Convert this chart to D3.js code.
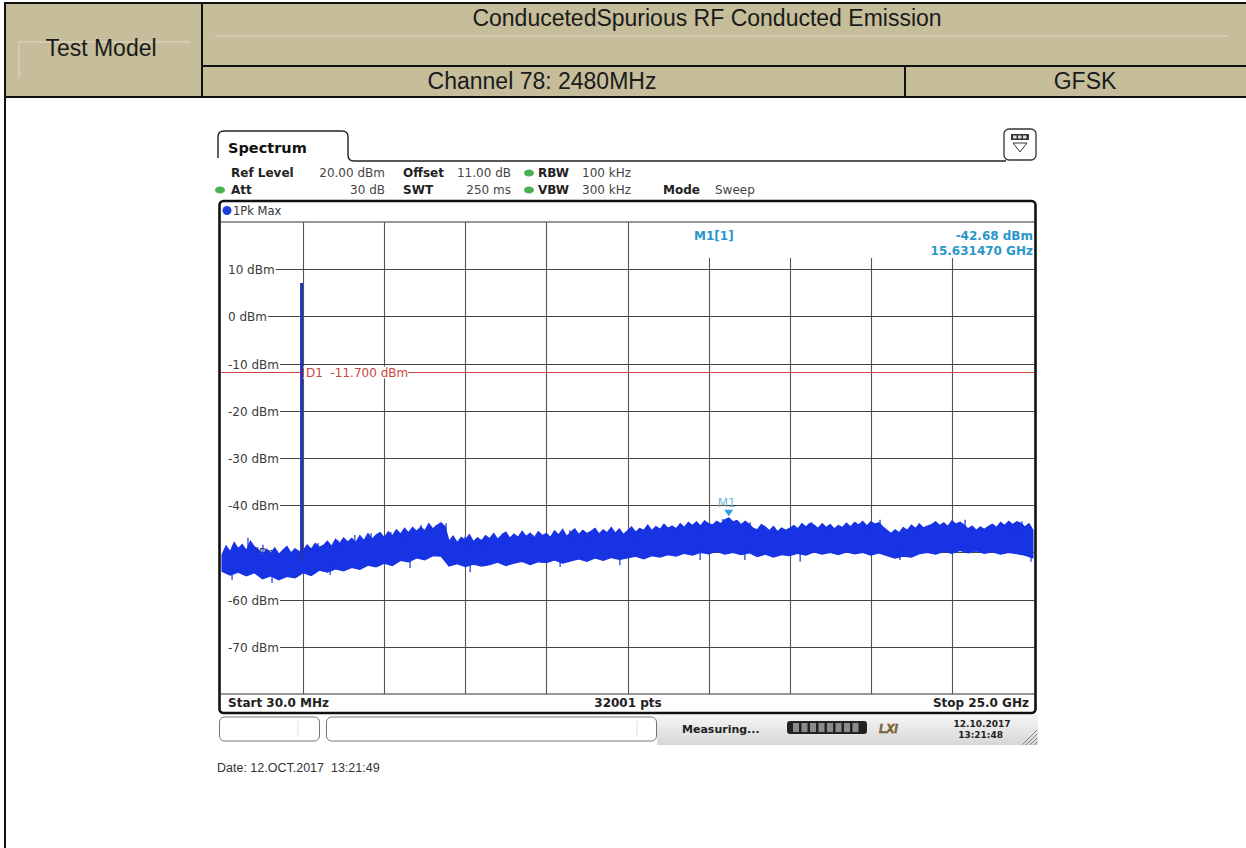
<!DOCTYPE html>
<html><head><meta charset="utf-8">
<script src="https://cdn.jsdelivr.net/npm/d3@7"></script>
<style>body{margin:0;background:#fff} svg{display:block} text{white-space:pre}</style>
</head><body>
<svg id="c" width="1246" height="848"></svg>
<script>
// ---------------- data ----------------
const titleText = "ConducetedSpurious RF Conducted Emission";
const channelText = "Channel 78: 2480MHz";
const modText = "GFSK";
const modelText = "Test Model";
const yTicks = [10, 0, -10, -20, -30, -40, -50, -60, -70];
const yTickLabels = ["10 dBm", "0 dBm", "-10 dBm", "-20 dBm", "-30 dBm", "-40 dBm", "-50 dBm", "-60 dBm", "-70 dBm"];
const refLevel = 20, bottomLevel = -80;
const startGHz = 0.03, stopGHz = 25.0;
const xDivisions = 10;
const carrierGHz = 2.48, carrierPeakDbm = 7.1;
const d1Level = -11.7;
const markerFreq = 15.63147, markerLevel = -42.68;
// upper envelope of the Pk Max trace (dBm), 201 points evenly spread from start to stop
const upperEnv = [
 -50.5,-48.6,-49.8,-47.9,-49.2,-48.3,-49.6,-47.6,-48.8,-49.4,
 -50.6,-49.3,-50.2,-49.0,-50.4,-49.5,-48.7,-50.1,-49.2,-49.8,
 -49.6,-48.4,-49.3,-48.1,-48.9,-48.5,-47.6,-48.7,-47.2,-48.1,
 -46.9,-47.8,-47.0,-47.9,-46.4,-47.5,-46.0,-47.2,-46.3,-45.8,
 -46.9,-45.6,-46.5,-45.2,-46.1,-44.9,-45.8,-44.7,-45.5,-44.6,
 -45.4,-43.9,-45.0,-44.3,-43.7,-44.5,-47.6,-46.5,-47.9,-46.8,
 -47.4,-46.2,-47.7,-46.9,-47.5,-46.4,-47.1,-46.0,-47.2,-46.3,
 -45.7,-47.0,-46.1,-46.8,-45.5,-46.6,-45.9,-46.9,-45.6,-46.4,
 -46.0,-46.8,-45.4,-46.3,-45.1,-46.6,-45.7,-45.0,-46.2,-45.3,
 -46.0,-45.5,-44.9,-46.1,-45.2,-45.8,-44.7,-45.9,-45.0,-46.2,
 -45.4,-44.6,-45.7,-44.9,-45.3,-44.2,-45.4,-44.5,-45.1,-44.0,
 -44.9,-44.4,-45.0,-43.9,-44.7,-43.6,-44.3,-43.5,-44.4,-43.3,
 -43.9,-44.2,-43.4,-43.9,-43.1,-42.68,-43.5,-43.2,-44.1,-43.4,
 -44.0,-44.9,-45.2,-44.1,-44.6,-45.4,-44.5,-45.6,-44.8,-45.3,
 -44.9,-44.3,-45.0,-43.9,-44.6,-43.8,-44.2,-44.9,-43.9,-44.7,
 -44.1,-45.0,-44.3,-44.7,-43.8,-44.6,-43.6,-44.2,-43.4,-44.4,
 -43.5,-44.0,-43.7,-44.6,-45.3,-46.0,-45.2,-45.8,-44.7,-45.3,
 -44.2,-44.9,-44.0,-44.8,-44.4,-44.1,-43.5,-44.3,-43.7,-44.5,
 -43.3,-44.0,-43.6,-44.2,-45.0,-44.4,-45.3,-44.6,-45.1,-44.5,
 -44.0,-44.7,-43.6,-44.3,-43.4,-44.1,-43.5,-43.8,-44.6,-43.9,
 -45.3];
// lower envelope of the trace (dBm), 101 points evenly spread from start to stop
const lowerEnv = [
 -54.0,-54.8,-54.2,-55.0,-54.3,-55.6,-55.0,-55.8,-55.1,-55.4,
 -54.3,-54.9,-53.8,-54.2,-53.5,-53.9,-53.2,-53.6,-52.7,-53.1,
 -52.3,-52.8,-51.7,-52.0,-51.2,-51.6,-50.7,-50.8,-52.9,-52.4,
 -53.0,-52.5,-52.9,-52.6,-52.1,-52.8,-52.3,-51.9,-52.6,-52.0,
 -52.2,-51.6,-52.3,-51.8,-51.4,-51.9,-51.2,-51.7,-51.1,-51.5,
 -51.2,-50.8,-51.4,-50.7,-51.0,-50.5,-50.8,-50.2,-50.6,-50.0,
 -50.3,-49.8,-50.4,-50.0,-50.5,-50.1,-50.9,-50.4,-51.0,-50.5,
 -50.7,-50.2,-50.6,-49.9,-50.4,-50.0,-50.5,-49.9,-50.3,-50.0,
 -50.6,-50.1,-50.7,-51.2,-50.8,-51.0,-50.3,-50.0,-50.4,-49.8,
 -50.2,-49.6,-50.1,-49.7,-50.2,-49.9,-50.4,-50.0,-50.3,-50.6,
 -51.2];
// individual noise spikes: [GHz, dBm]
const upSpikes = [[0.83,-46.9],[1.29,-48.4],[2.99,-48.0],[3.60,-47.4],[4.12,-46.3],[4.62,-45.9],[5.23,-45.7],[5.66,-44.8],
  [6.16,-44.2],[6.62,-44.2],[6.93,-43.8],[7.51,-46.7],[8.13,-46.7],[8.68,-45.9],[9.61,-46.3],[10.74,-45.3],[11.36,-45.7],
  [12.68,-45.3],[14.04,-44.6],[14.83,-43.8],[15.45,-42.9],[16.29,-43.6],[18.19,-43.6],[18.72,-44.2],[19.83,-43.8],
  [20.29,-43.1],[21.49,-43.8],[22.91,-43.1],[24.26,-43.8],[24.66,-43.4]];
const downSpikes = [[0.34,-55.8],[1.57,-56.5],[3.36,-54.8],[5.82,-53.3],[7.67,-54.2],[10.44,-53.1],[12.28,-52.7],
  [14.75,-51.6],[16.13,-51.6],[17.83,-52.0],[20.9,-51.6],[24.94,-52.0]];
const paramRow1 = [["Ref Level", true, "start"], ["20.00 dBm", false, "end"], ["Offset", true, "start"], ["11.00 dB", false, "end"], ["RBW", true, "start"], ["100 kHz", false, "start"]];
const paramRow2 = [["Att", true, "start"], ["30 dB", false, "end"], ["SWT", true, "start"], ["250 ms", false, "end"], ["VBW", true, "start"], ["300 kHz", false, "start"], ["Mode", true, "start"], ["Sweep", false, "start"]];
const paramX1 = [231, 385, 403, 511, 538, 582];
const paramX2 = [231, 385, 403, 511, 538, 582, 663, 715];
const traceName = "1Pk Max";
const startLabel = "Start 30.0 MHz", ptsLabel = "32001 pts", stopLabel = "Stop 25.0 GHz";
const dateLine = "Date: 12.OCT.2017  13:21:49";

// ---------------- drawing ----------------
const svg = d3.select("#c");
const INST = "'DejaVu Sans', Verdana, sans-serif";
const ARIAL = "'Liberation Sans', Arial, sans-serif";

// header table
svg.append("rect").attr("x", 5).attr("y", 3).attr("width", 1241).attr("height", 94).attr("fill", "#c6bd9b");
const faint = "#e2dbc4";
svg.append("line").attr("x1", 215).attr("x2", 1228).attr("y1", 36).attr("y2", 36).attr("stroke", faint);
svg.append("line").attr("x1", 19).attr("x2", 190).attr("y1", 42).attr("y2", 42).attr("stroke", faint);
svg.append("line").attr("x1", 19).attr("x2", 19).attr("y1", 42).attr("y2", 78).attr("stroke", faint);
const hdrLines = [[5, 3, 1246, 3], [5, 97, 1246, 97], [5, 2, 5, 848], [202, 3, 202, 97], [202, 66, 1246, 66], [905, 66, 905, 97]];
svg.selectAll(".hl").data(hdrLines).join("line").attr("class", "hl")
  .attr("x1", d => d[0]).attr("y1", d => d[1]).attr("x2", d => d[2]).attr("y2", d => d[3])
  .attr("stroke", "#111").attr("stroke-width", 2);
const hdrText = [[modelText, 101, 56], [titleText, 707, 26], [channelText, 542, 89], [modText, 1085, 89]];
svg.selectAll(".ht").data(hdrText).join("text").attr("class", "ht")
  .attr("x", d => d[1]).attr("y", d => d[2]).attr("text-anchor", "middle")
  .attr("font-family", ARIAL).attr("font-size", 23).attr("fill", "#1a1a1a").text(d => d[0]);

// instrument screen
const x = d3.scaleLinear().domain([startGHz, stopGHz]).range([222, 1033]);
const y = d3.scaleLinear().domain([bottomLevel, refLevel]).range([694, 222]);

// tab
svg.append("path").attr("d", "M218,158 L218,137 Q218,131 224,131 L342,131 Q348,131 348,137 L348,155 Q348,161 354,161 L1006,161")
  .attr("fill", "none").attr("stroke", "#222").attr("stroke-width", 1.4);
svg.append("text").attr("x", 228).attr("y", 153).attr("font-family", INST).attr("font-weight", "bold")
  .attr("font-size", 14.5).attr("fill", "#111").text("Spectrum");
// icon
svg.append("rect").attr("x", 1004).attr("y", 129).attr("width", 32).attr("height", 31).attr("rx", 5)
  .attr("fill", "#fff").attr("stroke", "#333").attr("stroke-width", 1.3);
svg.append("rect").attr("x", 1011).attr("y", 134).attr("width", 18).attr("height", 6).attr("fill", "#333");
[1013, 1018, 1023].forEach(px => svg.append("rect").attr("x", px).attr("y", 135.5).attr("width", 3.5).attr("height", 3).attr("fill", "#ddd"));
svg.append("path").attr("d", "M1013,143 L1027,143 L1020,152 Z").attr("fill", "none").attr("stroke", "#333").attr("stroke-width", 1);

// parameter rows
function paramRow(items, xs, yb) {
  items.forEach((it, i) => {
    svg.append("text").attr("x", xs[i]).attr("y", yb).attr("text-anchor", it[2])
      .attr("font-family", INST).attr("font-size", 12).attr("font-weight", it[1] ? "bold" : "normal")
      .attr("fill", it[1] ? "#222" : "#444").text(it[0]);
  });
}
paramRow(paramRow1, paramX1, 177);
paramRow(paramRow2, paramX2, 194);
[[529, 173], [220, 190], [529, 190]].forEach(p => svg.append("ellipse").attr("cx", p[0]).attr("cy", p[1])
  .attr("rx", 5).attr("ry", 3.6).attr("fill", "#4caf50"));

// frame
svg.append("rect").attr("x", 219.5).attr("y", 201).attr("width", 816).attr("height", 512).attr("rx", 4)
  .attr("fill", "#fff").attr("stroke", "#111").attr("stroke-width", 2.6);
svg.append("circle").attr("cx", 227).attr("cy", 210.5).attr("r", 4.5).attr("fill", "#1f3fd8");
svg.append("text").attr("x", 233).attr("y", 215).attr("font-family", INST).attr("font-size", 11.5)
  .attr("fill", "#333").text(traceName);

const grid = svg.append("g");
grid.append("line").attr("x1", 221).attr("x2", 1034).attr("y1", y(refLevel)).attr("y2", y(refLevel)).attr("stroke", "#333");
grid.append("line").attr("x1", 221).attr("x2", 1034).attr("y1", y(bottomLevel)).attr("y2", y(bottomLevel)).attr("stroke", "#333");
const xGrid = d3.range(1, xDivisions).map(k => startGHz + k * (stopGHz - startGHz) / xDivisions);
grid.selectAll(".vg").data(xGrid).join("line").attr("class", "vg")
  .attr("x1", d => Math.round(x(d)) + 0.5).attr("x2", d => Math.round(x(d)) + 0.5)
  .attr("y1", d => x(d) > 690 ? 258 : y(refLevel)).attr("y2", y(bottomLevel))
  .attr("stroke", "#555").attr("stroke-width", 1.1);
yTicks.forEach((t, i) => {
  const yy = Math.round(y(t)) + 0.5;
  const lab = grid.append("text").attr("x", 228).attr("y", yy + 4.2).attr("font-family", INST)
    .attr("font-size", 12).attr("fill", "#3a3a3a").text(yTickLabels[i]);
  const w = lab.node().getComputedTextLength();
  grid.append("line").attr("x1", 228 + w + 1).attr("x2", 1034).attr("y1", yy).attr("y2", yy)
    .attr("stroke", "#444").attr("stroke-width", 1.1);
});

// D1 display line
const yD1 = Math.round(y(d1Level)) + 0.5;
grid.append("line").attr("x1", 221).attr("x2", 1034).attr("y1", yD1).attr("y2", yD1).attr("stroke", "#d2473b").attr("stroke-width", 1);
const d1bg = grid.append("rect");
const d1t = grid.append("text").attr("x", 306).attr("y", yD1 + 4.5).attr("font-family", INST).attr("font-size", 12)
  .attr("fill", "#c9463c").text("D1  -11.700 dBm");
const d1w = d1t.node().getComputedTextLength();
d1bg.attr("x", 303).attr("y", yD1 - 6).attr("width", d1w + 3).attr("height", 12).attr("fill", "#fff");
grid.append("line").attr("x1", 303.5).attr("x2", 303.5).attr("y1", yD1 - 5).attr("y2", yD1 + 5).attr("stroke", "#d2473b");

// trace
svg.append("clipPath").attr("id", "pc").append("rect").attr("x", 221).attr("y", 222).attr("width", 813).attr("height", 472);
const traceCol = "#1733e3";
const upPts = upperEnv.map((v, i) => [x(startGHz + i * (stopGHz - startGHz) / (upperEnv.length - 1)), y(v)]);
const loPts = lowerEnv.map((v, i) => [x(startGHz + i * (stopGHz - startGHz) / (lowerEnv.length - 1)), y(v)]).reverse();
const tr = svg.append("g").attr("clip-path", "url(#pc)");
tr.append("path").attr("d", d3.line()(upPts.concat(loPts)) + "Z")
  .attr("fill", traceCol).attr("stroke", traceCol).attr("stroke-width", 1.1).attr("stroke-linejoin", "miter");
tr.selectAll(".us").data(upSpikes).join("line").attr("class", "us")
  .attr("x1", d => x(d[0])).attr("x2", d => x(d[0])).attr("y1", d => y(d[1])).attr("y2", d => y(d[1]) + 14)
  .attr("stroke", traceCol).attr("stroke-width", 1.2);
tr.selectAll(".ds").data(downSpikes).join("line").attr("class", "ds")
  .attr("x1", d => x(d[0])).attr("x2", d => x(d[0])).attr("y1", d => y(d[1])).attr("y2", d => y(d[1]) - 14)
  .attr("stroke", traceCol).attr("stroke-width", 1.2);
tr.append("line").attr("x1", x(carrierGHz)).attr("x2", x(carrierGHz)).attr("y1", y(-52)).attr("y2", y(carrierPeakDbm))
  .attr("stroke", "#2336b8").attr("stroke-width", 3);

// marker
const mx = x(markerFreq), my = y(markerLevel);
svg.append("path").attr("d", `M${mx - 4.5},${my - 8} L${mx + 4.5},${my - 8} L${mx},${my - 1.5} Z`).attr("fill", "#2aa0d8");
svg.append("text").attr("x", mx - 2).attr("y", my - 11).attr("text-anchor", "middle").attr("font-family", INST)
  .attr("font-size", 12).attr("fill", "#6fb8dc").text("M1");
const mcol = "#2b97c9";
svg.append("text").attr("x", 694).attr("y", 240).attr("font-family", INST).attr("font-size", 12).attr("font-weight", "bold").attr("fill", mcol).text("M1[1]");
svg.append("text").attr("x", 1033).attr("y", 240).attr("text-anchor", "end").attr("font-family", INST).attr("font-size", 12).attr("font-weight", "bold").attr("fill", mcol).text("-42.68 dBm");
svg.append("text").attr("x", 1033).attr("y", 255).attr("text-anchor", "end").attr("font-family", INST).attr("font-size", 12).attr("font-weight", "bold").attr("fill", mcol).text("15.631470 GHz");

// bottom labels
svg.append("text").attr("x", 228).attr("y", 707).attr("font-family", INST).attr("font-size", 12).attr("font-weight", "bold").attr("fill", "#222").text(startLabel);
svg.append("text").attr("x", 628).attr("y", 707).attr("text-anchor", "middle").attr("font-family", INST).attr("font-size", 12).attr("font-weight", "bold").attr("fill", "#222").text(ptsLabel);
svg.append("text").attr("x", 1029).attr("y", 707).attr("text-anchor", "end").attr("font-family", INST).attr("font-size", 12).attr("font-weight", "bold").attr("fill", "#222").text(stopLabel);

// status bar
const defs = svg.append("defs");
const lg = defs.append("linearGradient").attr("id", "sg").attr("x1", 0).attr("y1", 0).attr("x2", 0).attr("y2", 1);
lg.append("stop").attr("offset", "0").attr("stop-color", "#f6f6f6");
lg.append("stop").attr("offset", "1").attr("stop-color", "#d6d6d6");
svg.append("rect").attr("x", 657).attr("y", 715).attr("width", 381).attr("height", 30).attr("fill", "url(#sg)");
svg.append("rect").attr("x", 219.5).attr("y", 717).attr("width", 100).attr("height", 24).attr("rx", 5).attr("fill", "#fff").attr("stroke", "#777");
svg.append("rect").attr("x", 326.5).attr("y", 717).attr("width", 330).attr("height", 24).attr("rx", 5).attr("fill", "#fff").attr("stroke", "#777");
svg.append("line").attr("x1", 298).attr("x2", 298).attr("y1", 721).attr("y2", 737).attr("stroke", "#ddd");
svg.append("line").attr("x1", 637).attr("x2", 637).attr("y1", 721).attr("y2", 737).attr("stroke", "#ddd");
svg.append("text").attr("x", 682).attr("y", 733).attr("font-family", INST).attr("font-size", 11).attr("font-weight", "bold").attr("fill", "#222").text("Measuring...");
svg.append("rect").attr("x", 787).attr("y", 721).attr("width", 80).attr("height", 13).attr("rx", 3).attr("fill", "#222");
d3.range(8).forEach(k => svg.append("rect").attr("x", 793 + k * 8.5).attr("y", 723).attr("width", 6).attr("height", 9).attr("fill", "#8a8a8a"));
svg.append("text").attr("x", 879).attr("y", 733).attr("font-family", ARIAL).attr("font-size", 12).attr("font-weight", "bold")
  .attr("font-style", "italic").attr("fill", "#5c8a2e").attr("stroke", "#8b2d2d").attr("stroke-width", 0.5).text("LXI");
svg.append("text").attr("x", 982).attr("y", 727).attr("text-anchor", "middle").attr("font-family", INST).attr("font-size", 9).attr("font-weight", "bold").attr("fill", "#222").text("12.10.2017");
svg.append("text").attr("x", 1003).attr("y", 738).attr("text-anchor", "end").attr("font-family", INST).attr("font-size", 9).attr("font-weight", "bold").attr("fill", "#222").text("13:21:48");
[0, 4, 8, 12].forEach(o => svg.append("line").attr("x1", 1022 + o).attr("y1", 745).attr("x2", 1037).attr("y2", 730 + o).attr("stroke", "#888"));

svg.append("text").attr("x", 217).attr("y", 772).attr("font-family", ARIAL).attr("font-size", 12.5).attr("fill", "#333").text(dateLine);
</script>
</body></html>
